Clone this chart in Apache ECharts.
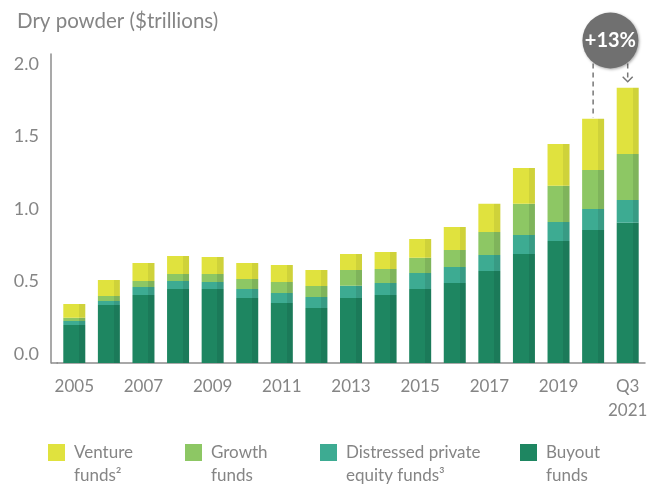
<!DOCTYPE html>
<html>
<head>
<meta charset="utf-8">
<script src="https://cdn.jsdelivr.net/npm/echarts@6/dist/echarts.min.js"></script>
<style>
  html, body { margin: 0; padding: 0; background: #fff; }
  #chart { width: 657px; height: 487px; }
</style>
</head>
<body>
<div id="chart"></div>
<script>
const categories = ['2005','2006','2007','2008','2009','2010','2011','2012','2013','2014','2015','2016','2017','2018','2019','2020','Q3\n2021'];
const buyout     = [0.262,0.400,0.469,0.510,0.510,0.448,0.414,0.379,0.448,0.469,0.510,0.552,0.634,0.752,0.841,0.917,0.966];
const distressed = [0.028,0.028,0.055,0.056,0.049,0.062,0.069,0.076,0.085,0.083,0.110,0.110,0.111,0.131,0.131,0.145,0.158];
const growth     = [0.022,0.034,0.042,0.048,0.055,0.069,0.076,0.076,0.108,0.096,0.105,0.117,0.158,0.214,0.249,0.269,0.317];
const venture    = [0.095,0.110,0.124,0.124,0.117,0.111,0.117,0.110,0.111,0.118,0.129,0.159,0.194,0.248,0.289,0.352,0.456];
const seriesNames = ['Venture funds²', 'Growth funds', 'Distressed private equity funds³', 'Buyout funds'];
const legendLines = [['Venture', 'funds²'], ['Growth', 'funds'], ['Distressed private', 'equity funds³'], ['Buyout', 'funds']];
const yTicks = [0, 0.5, 1.0, 1.5, 2.0];
const growthLabel = '+13%';

const FONT = 'Lato, "Noto Sans", sans-serif';
const TEXT = '#858585';
const colors = {
  venture:    ['#e0e23e', '#cfd23a'],
  growth:     ['#8dc764', '#7fb45b'],
  distressed: ['#3dab92', '#389b84'],
  buyout:     ['#1e8661', '#1b7a59']
};
function shaded(c) {
  return { type: 'linear', x: 0, y: 0, x2: 1, y2: 0,
    colorStops: [ {offset: 0, color: c[0]}, {offset: 0.72, color: c[0]}, {offset: 0.72, color: c[1]}, {offset: 1, color: c[1]} ] };
}

const chart = echarts.init(document.getElementById('chart'));
const legendLeft = [48, 185, 320, 520];
const legendColors = [colors.venture[0], colors.growth[0], colors.distressed[0], colors.buyout[0]];
const legends = seriesNames.map((n, i) => ({
  data: [{ name: n, itemStyle: { color: legendColors[i] } }],
  left: legendLeft[i], top: 418, padding: 0,
  icon: 'rect', itemWidth: 17, itemHeight: 17, itemGap: 0,
  selectedMode: false,
  formatter: () => '\u00a0\n' + legendLines[i].join('\n'),
  textStyle: { fontFamily: FONT, fontSize: 17, color: TEXT, lineHeight: 23, padding: [0, 0, 0, 4] }
}));

function mkSeries(name, data, c) {
  return { name, type: 'bar', stack: 'total', data, barWidth: 22,
    itemStyle: { color: shaded(c) }, emphasis: { disabled: true }, animation: false };
}

chart.setOption({
  animation: false,
  title: { text: 'Dry powder ($trillions)', left: 12, top: 6,
    textStyle: { fontFamily: FONT, fontSize: 20.5, fontWeight: 'normal', color: TEXT } },
  legend: legends,
  grid: { left: 57, right: 12, top: 54, bottom: 124, containLabel: false },
  xAxis: {
    type: 'category', data: categories,
    axisLine: { lineStyle: { color: '#8c8c8c', width: 1.5 } },
    axisTick: { show: false },
    axisLabel: { interval: 1, margin: 12, fontFamily: FONT, fontSize: 17, color: TEXT, lineHeight: 24 }
  },
  yAxis: {
    type: 'value', min: 0, max: 2.13, interval: 0.5, offset: 6,
    axisLine: { show: true, lineStyle: { color: '#8c8c8c', width: 1.5 } },
    axisTick: { show: false }, splitLine: { show: false },
    axisLabel: { showMaxLabel: false, margin: 12, fontFamily: FONT, fontSize: 18, color: TEXT,
      verticalAlign: 'bottom', lineHeight: 18,
      formatter: v => yTicks.some(t => Math.abs(t - v) < 1e-9) ? v.toFixed(1) : '' }
  },
  series: [
    mkSeries(seriesNames[3], buyout, colors.buyout),
    mkSeries(seriesNames[2], distressed, colors.distressed),
    mkSeries(seriesNames[1], growth, colors.growth),
    mkSeries(seriesNames[0], venture, colors.venture)
  ]
});

// annotation: growth bubble between the last two bars
const n = categories.length;
const total = i => buyout[i] + distressed[i] + growth[i] + venture[i];
const pPrev = chart.convertToPixel({gridIndex: 0}, [n - 2, total(n - 2)]);
const pLast = chart.convertToPixel({gridIndex: 0}, [n - 1, total(n - 1)]);
const origin = chart.convertToPixel({gridIndex: 0}, [0, 0]);
const cx = (pPrev[0] + pLast[0]) / 2, cy = 40.5, r = 28;
const edgeY = x => cy + Math.sqrt(Math.max(0, r * r - (x - cx) * (x - cx)));
const tipY = pLast[1] - 6;
const dash = { stroke: '#777', lineWidth: 1.5, lineDash: [5, 4] };
chart.setOption({
  graphic: [
    { type: 'line', shape: { x1: 51, y1: origin[1], x2: 58, y2: origin[1] }, style: { stroke: '#8c8c8c', lineWidth: 1.5 }, silent: true },
    { type: 'line', shape: { x1: pPrev[0], y1: edgeY(pPrev[0]) + 1, x2: pPrev[0], y2: pPrev[1] - 1 }, style: dash, silent: true },
    { type: 'line', shape: { x1: pLast[0], y1: edgeY(pLast[0]) + 1, x2: pLast[0], y2: tipY }, style: dash, silent: true },
    { type: 'polyline', shape: { points: [[pLast[0] - 5, tipY - 5], [pLast[0], tipY], [pLast[0] + 5, tipY - 5]] }, style: { stroke: '#777', lineWidth: 1.5, fill: null }, silent: true },
    { type: 'circle', shape: { cx, cy, r }, style: { fill: '#707070', shadowBlur: 3, shadowColor: 'rgba(0,0,0,0.35)', shadowOffsetX: 1, shadowOffsetY: 1 }, silent: true },
    { type: 'text', x: cx, y: cy, style: { text: growthLabel, fill: '#fff', font: 'bold 20px ' + FONT, align: 'center', verticalAlign: 'middle' }, silent: true }
  ]
});
</script>
</body>
</html>
